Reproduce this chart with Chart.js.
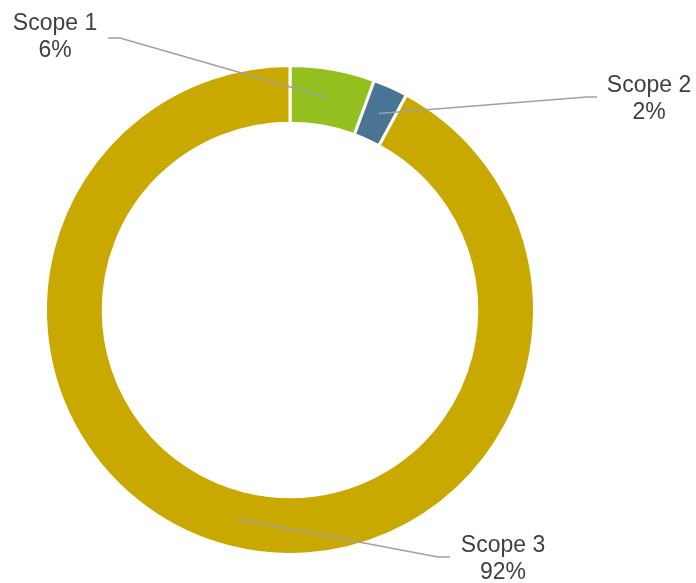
<!DOCTYPE html>
<html>
<head>
<meta charset="utf-8">
<script src="https://cdn.jsdelivr.net/npm/chart.js@4"></script>
<style>
  html, body { margin: 0; padding: 0; background: #fff; }
  #wrap { width: 696px; height: 583px; }
</style>
</head>
<body>
<div id="wrap"><canvas id="scope-chart"></canvas></div>
<script>
const categories = ['Scope 1', 'Scope 2', 'Scope 3'];
const shares = [5.6, 2.3, 92.1];
const shareLabels = ['6%', '2%', '92%'];
const colours = ['#93c01f', '#4a7494', '#c9a800'];

// where each callout sits: elbow of the leader, end of the leader, text centre
const callouts = [
  { elbow: [120, 38], end: [108, 38], text: [55, 24] },
  { elbow: [587, 97], end: [597, 97], text: [649, 86] },
  { elbow: [438, 557], end: [450, 557], text: [503, 546] }
];

const calloutPlugin = {
  id: 'callouts',
  afterDatasetsDraw(chart) {
    const ctx = chart.ctx;
    const arcs = chart.getDatasetMeta(0).data;
    ctx.save();
    arcs.forEach((arc, i) => {
      const p = arc.getProps(['x', 'y', 'startAngle', 'endAngle', 'innerRadius', 'outerRadius'], true);
      const mid = (p.startAngle + p.endAngle) / 2;
      const r = (p.innerRadius + p.outerRadius) / 2;
      const ax = p.x + Math.cos(mid) * r;
      const ay = p.y + Math.sin(mid) * r;
      const c = callouts[i];

      ctx.strokeStyle = '#a0a0a0';
      ctx.lineWidth = 1.5;
      ctx.beginPath();
      ctx.moveTo(ax, ay);
      ctx.lineTo(c.elbow[0], c.elbow[1]);
      ctx.lineTo(c.end[0], c.end[1]);
      ctx.stroke();

      ctx.fillStyle = '#404040';
      ctx.font = '23px "Liberation Sans", Arial, sans-serif';
      ctx.textAlign = 'center';
      ctx.textBaseline = 'middle';
      ctx.fillText(categories[i], c.text[0], c.text[1]);
      ctx.fillText(shareLabels[i], c.text[0], c.text[1] + 27);
    });
    ctx.restore();
  }
};

new Chart(document.getElementById('scope-chart'), {
  type: 'doughnut',
  data: {
    labels: categories,
    datasets: [{
      data: shares,
      backgroundColor: colours,
      borderColor: '#ffffff',
      borderWidth: 3
    }]
  },
  options: {
    responsive: true,
    maintainAspectRatio: false,
    animation: false,
    cutout: '76.4%',
    layout: { padding: { left: 44, right: 160, top: 64, bottom: 27 } },
    plugins: {
      legend: { display: false },
      tooltip: { enabled: false }
    }
  },
  plugins: [calloutPlugin]
});
</script>
</body>
</html>
